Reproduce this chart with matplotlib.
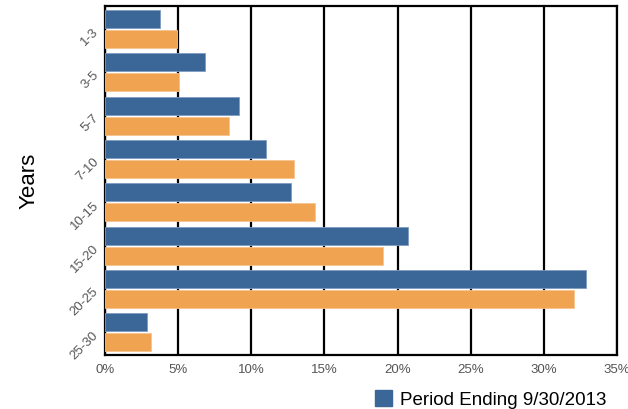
import matplotlib
matplotlib.use("Agg")
import matplotlib.pyplot as plt
import numpy as np
from matplotlib.patches import Patch

plt.rcParams['font.family'] = ['Liberation Sans', 'DejaVu Sans']

categories = ["1-3", "3-5", "5-7", "7-10", "10-15", "15-20", "20-25", "25-30"]
period_current = [3.76, 6.86, 9.18, 10.98, 12.69, 20.73, 32.86, 2.89]
period_prior = [4.95, 5.08, 8.45, 12.89, 14.35, 19.0, 32.08, 3.16]
x_ticks = [0, 5, 10, 15, 20, 25, 30, 35]
x_tick_labels = ["0%", "5%", "10%", "15%", "20%", "25%", "30%", "35%"]
legend_label = "Period Ending 9/30/2013"

blue = "#3b6698"
orange = "#f0a452"

fig = plt.figure(figsize=(6.28, 4.10), dpi=100)
ax = fig.add_axes([105 / 628, 1 - 355.5 / 410, 512 / 628, 348.5 / 410])

y = np.arange(len(categories))
h = 0.415
off = 0.233
ax.barh(y - off, period_current, height=h, color=blue, edgecolor="#7f9cc0",
        linewidth=0.6, zorder=3)
ax.barh(y + off, period_prior, height=h, color=orange, edgecolor="#f6c48e",
        linewidth=0.6, zorder=3)

ax.set_xlim(0, 35)
ax.set_ylim(len(categories) - 0.5 + 0.01, -0.5 - 0.03)
ax.set_xticks(x_ticks)
ax.set_xticklabels(x_tick_labels, color="#555555", fontsize=9.5)
ax.set_yticks(y)
ax.set_yticklabels(categories, rotation=45, ha="right", va="center",
                   rotation_mode="anchor", color="#555555", fontsize=9.5)
ax.tick_params(axis="both", length=0, pad=6)
ax.xaxis.grid(True, color="black", linewidth=1.6, zorder=1)
for s in ax.spines.values():
    s.set_color("black")
    s.set_linewidth(1.6)
ax.set_ylabel("Years", fontsize=16, labelpad=21)

fig.legend(handles=[Patch(facecolor=blue, edgecolor=blue)], labels=[legend_label],
           loc="lower left", bbox_to_anchor=(367 / 628, -7 / 410), frameon=False,
           fontsize=13.5, handlelength=0.95, handleheight=0.95, handletextpad=0.4,
           borderaxespad=0)

fig.savefig("out.png", dpi=100)
